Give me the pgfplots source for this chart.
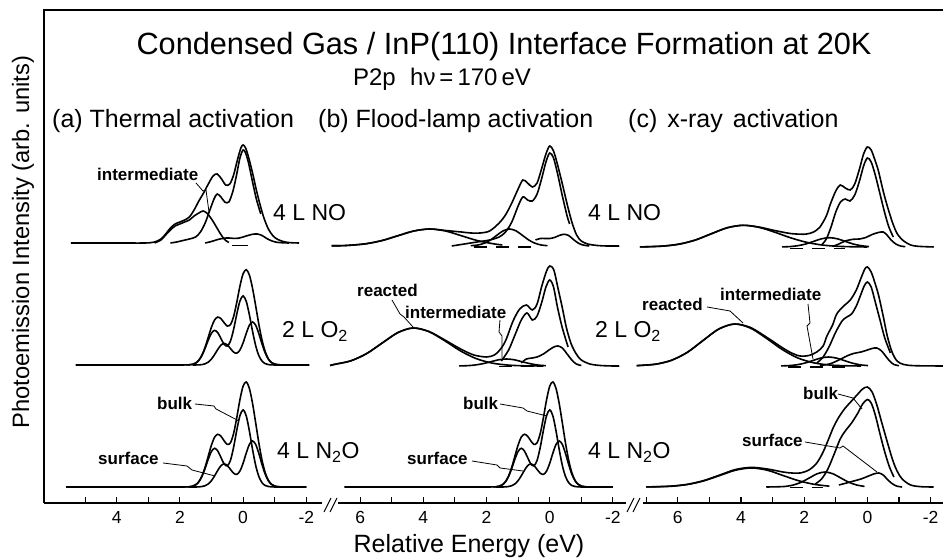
\documentclass[border=0pt]{standalone}
\usepackage{fontspec}
\setmainfont{Liberation Sans}
\usepackage{pgfplots}
\pgfplotsset{compat=1.18}
\pgfplotsset{
  panel/.style={
    x=31.6bp, y=1bp, ymin=0, ymax=493,
    x dir=reverse,
    axis x line*=bottom, axis y line=none, ytick=\empty,
    axis line style={-, line width=1.3bp},
    xtick align=inside,
    major tick length=6bp, minor tick length=6bp,
    every tick/.style={line width=1.1bp, black},
    tick label style={font=\fontsize{17.5bp}{17.5bp}\selectfont, inner sep=0pt},
    xticklabel shift=8bp,
    /pgf/number format/assume math mode=true,
    clip=false,
    every axis plot/.append style={smooth, line width=1.6bp, black, no markers},
  },
  base/.style={y filter/.expression={y+#1}},
  dsh/.style={dash pattern=on 13bp off 9bp},
}
\newcommand{\lab}{\fontsize{17bp}{17bp}\selectfont\bfseries}
\newcommand{\spl}{\fontsize{23bp}{23bp}\selectfont}
\begin{document}
\begin{tikzpicture}[x=1bp,y=1bp]
\useasboundingbox (0,0) rectangle (943,558);

% ---------------- panel (a) ----------------
\begin{axis}[panel, at={(44bp,55bp)}, anchor=south west,
  xmin=-2.5, xmax=6.3, xtick={-2,0,2,4}, minor xtick={-1,1,3,5}]
% 4 L NO
\addplot[base=260] coordinates {(5.45,0)(4.0,0)(3.1,0)(2.8,1)(2.6,4)(2.45,9)(2.3,15)(2.15,19)(2.0,21)(1.85,23)(1.7,26)(1.55,33)(1.4,42)(1.25,50)(1.1,59)(0.95,67)(0.82,69)(0.68,64)(0.55,58)(0.42,59)(0.3,68)(0.18,83)(0.07,95)(0,98)(-0.08,95)(-0.18,85)(-0.3,70)(-0.42,53)(-0.54,38)(-0.66,25)(-0.8,14)(-0.95,7)(-1.1,3.5)(-1.3,1.2)(-1.5,0.3)(-1.77,0)};
\addplot[base=260] coordinates {(2.3,0)(2.1,1)(1.9,2.5)(1.7,4)(1.5,6)(1.35,11)(1.2,20)(1.05,33)(0.92,44)(0.82,49)(0.7,46)(0.58,41)(0.45,41)(0.32,52)(0.2,69)(0.1,85)(0,93)(-0.08,90)(-0.18,79)(-0.3,61)(-0.42,44)(-0.56,29)};
\addplot[base=260] coordinates {(2.8,0)(2.6,3)(2.45,8)(2.3,13)(2.15,17)(2.0,19)(1.85,21)(1.7,23)(1.55,27)(1.4,30)(1.27,32)(1.15,30)(1.02,25)(0.9,19)(0.77,12)(0.65,6)(0.55,2.5)(0.45,0.5)};
\addplot[base=260] coordinates {(1.2,0)(1.0,1.5)(0.8,3.5)(0.6,4.8)(0.45,5)(0.3,4.6)(0.15,4.8)(0,6)(-0.15,7.5)(-0.3,8.7)(-0.45,9)(-0.6,7.5)(-0.75,4.5)(-0.9,2.2)(-1.05,0.8)(-1.25,0.2)(-1.45,0)};
\addplot[base=260, sharp plot] coordinates {(0.34,-2.5)(-0.14,-2.5)};
% 2 L O2
\addplot[base=138] coordinates {(5.3,0)(3.0,0)(2.0,0)(1.8,0.1)(1.7,0.2)(1.6,0.7)(1.5,1.9)(1.4,4.8)(1.3,10.0)(1.2,18.0)(1.1,27.9)(1.0,37.9)(0.9,45.1)(0.8,47.9)(0.7,46.3)(0.6,42.3)(0.5,39.0)(0.4,40.4)(0.3,48.4)(0.2,62.6)(0.1,78.8)(0,91.2)(-0.1,95.3)(-0.2,89.9)(-0.3,76.6)(-0.4,58.9)(-0.5,40.5)(-0.6,24.8)(-0.7,13.4)(-0.8,6.2)(-0.9,2.4)(-1.0,0.9)(-1.1,0.3)(-1.3,0)(-1.7,0)(-2.1,0)};
\addplot[base=138] coordinates {(1.8,0.1)(1.7,0.2)(1.6,0.7)(1.5,1.9)(1.4,4.7)(1.3,9.6)(1.2,16.8)(1.1,25.0)(1.0,31.9)(0.9,34.6)(0.8,32.3)(0.7,26.4)(0.6,20.7)(0.5,18.9)(0.4,23.9)(0.3,35.5)(0.2,50.8)(0.1,63.9)(0,69.1)(-0.1,63.7)(-0.2,50.1)(-0.3,33.6)(-0.4,19.2)(-0.5,9.3)(-0.6,3.9)(-0.7,1.4)(-0.8,0.4)(-1.0,0)(-1.4,0)};
\addplot[base=138] coordinates {(1.6,0)(1.4,0.1)(1.3,0.4)(1.2,1.2)(1.1,2.9)(1.0,6.0)(0.9,10.5)(0.8,15.6)(0.7,19.9)(0.6,21.6)(0.5,20.1)(0.4,16.5)(0.3,12.9)(0.2,11.8)(0.1,14.9)(0,22.1)(-0.1,31.6)(-0.2,39.8)(-0.3,43.0)(-0.4,39.7)(-0.5,31.2)(-0.6,20.9)(-0.7,12.0)(-0.8,5.8)(-0.9,2.4)(-1.0,0.9)(-1.1,0.3)(-1.3,0)};
% 4 L N2O
\addplot[base=16] coordinates {(5.6,0)(3.5,0)(2.0,0)(1.8,0.1)(1.7,0.2)(1.6,0.8)(1.5,2.2)(1.4,5.3)(1.3,11.2)(1.2,20.0)(1.1,31.1)(1.0,42.0)(0.9,49.9)(0.8,52.7)(0.7,50.8)(0.6,46.2)(0.5,42.6)(0.4,44.2)(0.3,53.5)(0.2,69.3)(0.1,87.2)(0,100.8)(-0.1,105.0)(-0.2,98.5)(-0.3,83.5)(-0.4,63.9)(-0.5,43.8)(-0.6,26.7)(-0.7,14.3)(-0.8,6.7)(-0.9,2.7)(-1.0,0.9)(-1.1,0.3)(-1.3,0)(-1.6,0)(-2.0,0)};
\addplot[base=16] coordinates {(1.8,0.1)(1.7,0.2)(1.6,0.8)(1.5,2.2)(1.4,5.2)(1.3,10.7)(1.2,18.7)(1.1,28.0)(1.0,35.6)(0.9,38.7)(0.8,36.0)(0.7,29.5)(0.6,23.1)(0.5,21.1)(0.4,26.6)(0.3,39.7)(0.2,56.7)(0.1,71.3)(0,77.1)(-0.1,71.1)(-0.2,55.9)(-0.3,37.5)(-0.4,21.4)(-0.5,10.4)(-0.6,4.3)(-0.7,1.5)(-0.8,0.5)(-1.0,0)(-1.5,0)(-2.0,0)};
\addplot[base=16] coordinates {(1.7,0)(1.5,0)(1.4,0.1)(1.3,0.5)(1.2,1.3)(1.1,3.1)(1.0,6.4)(0.9,11.2)(0.8,16.7)(0.7,21.3)(0.6,23.1)(0.5,21.5)(0.4,17.6)(0.3,13.8)(0.2,12.6)(0.1,15.9)(0,23.7)(-0.1,33.9)(-0.2,42.6)(-0.3,46.0)(-0.4,42.5)(-0.5,33.4)(-0.6,22.4)(-0.7,12.8)(-0.8,6.2)(-0.9,2.6)(-1.0,0.9)(-1.1,0.3)(-1.3,0)(-1.8,0)};
\end{axis}

% ---------------- panel (b) ----------------
\begin{axis}[panel, at={(338bp,55bp)}, anchor=south west,
  xmin=-2.4, xmax=6.7, xtick={-2,0,2,4,6}, minor xtick={-1,1,3,5}]
% 4 L NO
\addplot[base=257] coordinates {(6.9,0.2)(6.6,0.3)(6.3,0.8)(5.8,2.3)(5.3,5.5)(4.8,10.3)(4.3,15)(3.8,17)(3.3,15.5)(2.8,14)(2.5,13)(2.2,13)(1.9,15)(1.6,23)(1.4,31)(1.2,43)(1.0,57)(0.85,66)(0.7,63)(0.55,59)(0.4,63)(0.25,78)(0.12,92)(0,100)(-0.12,95)(-0.25,81)(-0.4,62)(-0.55,42)(-0.7,24)(-0.85,11)(-1.0,5)(-1.2,2)(-1.5,0.5)(-1.8,0)(-2.2,0)};
\addplot[base=257] coordinates {(3.1,0)(2.7,2)(2.3,4)(1.9,6)(1.6,9)(1.4,14)(1.2,24)(1.0,40)(0.85,49)(0.7,46)(0.55,45)(0.4,52)(0.25,68)(0.12,84)(0,93)(-0.12,88)(-0.25,72)(-0.4,50)(-0.55,30)(-0.63,22)};
\addplot[base=257] coordinates {(6.9,0.2)(6.6,0.3)(6.3,0.75)(5.8,2.3)(5.3,5.5)(4.8,10.3)(4.3,15)(3.8,17)(3.3,15)(2.8,10.3)(2.3,5.5)(1.8,2.3)(1.5,1)};
\addplot[base=257] coordinates {(2.5,0.3)(2.27,1.0)(2.07,2.8)(1.87,6.1)(1.67,10.8)(1.47,15.2)(1.27,17)(1.07,15.2)(0.87,10.8)(0.67,6.1)(0.47,2.8)(0.27,1.0)(0.07,0.3)};
\addplot[base=257] coordinates {(0.45,6)(0.3,7.5)(0.15,7.5)(0,7.5)(-0.15,8.5)(-0.3,10.5)(-0.45,11.7)(-0.6,10.5)(-0.75,6.5)(-0.9,3)(-1.05,1)(-1.25,0)};
\addplot[base=257, dsh, sharp plot] coordinates {(2.4,-1)(1.4,-1)(0.4,-1)};
% 2 L O2
\addplot[base=137] coordinates {(6.95,0.5)(6.8,1.7)(6.3,5.1)(5.8,12.3)(5.3,23)(4.8,33.5)(4.32,38)(3.82,34.5)(3.32,26)(2.82,17)(2.4,11)(2.0,9)(1.75,11)(1.58,16)(1.4,25)(1.16,45)(0.95,57)(0.74,61)(0.55,56)(0.4,62)(0.25,80)(0.1,95)(0,100)(-0.13,96)(-0.26,78)(-0.4,58)(-0.53,38)(-0.68,22)(-0.84,12)(-1.0,6)(-1.27,2)(-1.6,0.5)(-2.0,0)(-2.2,0)};
\addplot[base=137] coordinates {(1.53,5)(1.3,16)(1.1,31)(0.9,46)(0.72,53)(0.55,46)(0.4,50)(0.25,64)(0.12,79)(0,86)(-0.12,79)(-0.25,58)(-0.4,38)(-0.58,19)};
\addplot[base=137] coordinates {(0.9,3)(0.74,7)(0.55,8)(0.4,9)(0.2,12)(0,16.5)(-0.13,19)(-0.26,20)(-0.4,18)(-0.55,12)(-0.7,6)(-0.84,2)(-1.0,0.5)};
\addplot[base=137] coordinates {(6.95,0.5)(6.8,1.7)(6.3,5.1)(5.8,12.3)(5.3,23)(4.8,33.5)(4.32,38)(3.82,34.3)(3.32,25.2)(2.82,15)(2.32,7.3)(1.82,2.9)(1.32,0.9)(0.82,0.2)(0.2,0)};
\addplot[base=137] coordinates {(2.87,0.1)(2.62,0.3)(2.37,0.95)(2.12,2.3)(1.87,4.2)(1.62,6.2)(1.37,7)(1.12,6.2)(0.87,4.2)(0.62,2.3)(0.37,0.95)(0.12,0.3)};
\addplot[base=137, dsh, sharp plot] coordinates {(1.6,-0.5)(0.5,-0.5)};
% 4 L N2O
\addplot[base=16] coordinates {(6.5,0)(4.5,0)(3.0,0)(2.0,0)(1.8,0.1)(1.7,0.2)(1.6,0.8)(1.5,2.2)(1.4,5.3)(1.3,11.2)(1.2,20.0)(1.1,31.1)(1.0,42.0)(0.9,49.9)(0.8,52.7)(0.7,50.8)(0.6,46.2)(0.5,42.6)(0.4,44.2)(0.3,53.5)(0.2,69.3)(0.1,87.2)(0,100.8)(-0.1,105.0)(-0.2,98.5)(-0.3,83.5)(-0.4,63.9)(-0.5,43.8)(-0.6,26.7)(-0.7,14.3)(-0.8,6.7)(-0.9,2.7)(-1.0,0.9)(-1.1,0.3)(-1.3,0)(-1.6,0)(-2.0,0)};
\addplot[base=16] coordinates {(1.8,0.1)(1.7,0.2)(1.6,0.8)(1.5,2.2)(1.4,5.2)(1.3,10.7)(1.2,18.7)(1.1,28.0)(1.0,35.6)(0.9,38.7)(0.8,36.0)(0.7,29.5)(0.6,23.1)(0.5,21.1)(0.4,26.6)(0.3,39.7)(0.2,56.7)(0.1,71.3)(0,77.1)(-0.1,71.1)(-0.2,55.9)(-0.3,37.5)(-0.4,21.4)(-0.5,10.4)(-0.6,4.3)(-0.7,1.5)(-0.8,0.5)(-1.0,0)(-1.5,0)(-2.0,0)};
\addplot[base=16] coordinates {(1.7,0)(1.5,0)(1.4,0.1)(1.3,0.5)(1.2,1.3)(1.1,3.1)(1.0,6.4)(0.9,11.2)(0.8,16.7)(0.7,21.3)(0.6,23.1)(0.5,21.5)(0.4,17.6)(0.3,13.8)(0.2,12.6)(0.1,15.9)(0,23.7)(-0.1,33.9)(-0.2,42.6)(-0.3,46.0)(-0.4,42.5)(-0.5,33.4)(-0.6,22.4)(-0.7,12.8)(-0.8,6.2)(-0.9,2.6)(-1.0,0.9)(-1.1,0.3)(-1.3,0)(-1.8,0)};
\end{axis}

% ---------------- panel (c) ----------------
\begin{axis}[panel, at={(643bp,55bp)}, anchor=south west,
  xmin=-2.4, xmax=7.1, xtick={-2,0,2,4,6}, minor xtick={-1,1,3,5,7}]
% 4 L NO
\addplot[base=256] coordinates {(7.2,0.1)(6.94,0.3)(6.44,1)(5.94,3)(5.44,7)(4.94,13.2)(4.44,19.2)(3.94,21.7)(3.44,20)(2.94,16.5)(2.44,13.5)(2.1,12.8)(1.92,13)(1.7,15)(1.5,20)(1.3,31)(1.17,43)(1.0,56)(0.86,62)(0.7,59)(0.54,57)(0.4,63)(0.25,78)(0.12,93)(0,100)(-0.12,97)(-0.25,86)(-0.35,76)(-0.5,56)(-0.63,41)(-0.8,24)(-0.95,13)(-1.15,6)(-1.37,2)(-1.6,0.7)(-2.1,0)};
\addplot[base=256] coordinates {(1.45,2)(1.3,8)(1.15,20)(1.0,35)(0.85,45)(0.7,48)(0.55,46)(0.4,52)(0.25,66)(0.12,81)(0,89)(-0.12,85)(-0.25,72)(-0.4,53)(-0.55,34)(-0.68,20)(-0.82,10)};
\addplot[base=256] coordinates {(7.2,0.1)(6.94,0.24)(6.44,0.95)(5.94,2.9)(5.44,7.0)(4.94,13.2)(4.44,19.2)(3.94,21.7)(3.44,19.7)(2.94,14.9)(2.44,9.3)(1.94,4.8)(1.44,2.0)(0.94,0.7)(0.44,0.2)(0,0)};
\addplot[base=256] coordinates {(2.7,0.1)(2.45,0.4)(2.2,1.3)(1.95,3.0)(1.7,5.6)(1.45,8.2)(1.2,9.3)(0.95,8.2)(0.7,5.6)(0.45,3.0)(0.2,1.3)(-0.05,0.4)};
\addplot[base=256] coordinates {(1.1,0.5)(0.9,3)(0.7,6)(0.45,7.7)(0.25,8)(0.05,9.5)(-0.15,12.5)(-0.35,14.5)(-0.5,15)(-0.62,12)(-0.75,7)(-0.9,3)(-1.05,1)(-1.2,0.3)};
\addplot[base=256, dsh, sharp plot] coordinates {(2.45,-1.5)(0.7,-1.5)};
% 2 L O2
\addplot[base=137] coordinates {(7.3,0.3)(7.2,0.5)(6.7,1.8)(6.2,5.7)(5.7,13.6)(5.2,25.5)(4.7,37)(4.2,42)(3.7,38.5)(3.2,29)(2.7,18.5)(2.4,13)(2.13,10)(1.85,10.5)(1.6,14)(1.4,20)(1.28,30)(1.1,41)(0.97,52)(0.75,60)(0.54,66)(0.35,76)(0.2,88)(0.08,97)(0,99)(-0.12,94)(-0.25,82)(-0.36,70)(-0.5,50)(-0.63,30)(-0.78,14)(-0.94,5)(-1.15,1.5)(-1.5,0.3)(-2.4,0)};
\addplot[base=137] coordinates {(1.6,3)(1.4,9)(1.2,20)(1.0,34)(0.8,45)(0.65,49)(0.5,52)(0.35,60)(0.2,72)(0.1,80)(0,84)(-0.12,79)(-0.25,64)(-0.4,46)(-0.55,28)(-0.73,13)};
\addplot[base=137] coordinates {(7.3,0.4)(6.7,1.8)(6.2,5.7)(5.7,13.6)(5.2,25.5)(4.7,37)(4.2,42)(3.7,37.9)(3.2,27.8)(2.7,16.6)(2.2,8.0)(1.7,3.2)(1.2,1.0)(0.7,0.25)(0.2,0)};
\addplot[base=137] coordinates {(2.73,0.1)(2.48,0.4)(2.23,1.2)(1.98,2.9)(1.73,5.4)(1.48,7.9)(1.23,9)(0.98,7.9)(0.73,5.4)(0.48,2.9)(0.23,1.2)(-0.02,0.4)};
\addplot[base=137] coordinates {(1.5,0.5)(1.2,2)(0.9,6)(0.65,10)(0.44,12.5)(0.2,14)(0,16)(-0.15,17.5)(-0.3,18)(-0.45,15)(-0.6,9)(-0.72,4.5)(-0.84,1.5)(-1.0,0.3)};
\addplot[base=137, dsh, sharp plot] coordinates {(2.5,-1)(0.6,-1)};
% 4 L N2O
\addplot[base=16] coordinates {(7.0,0.1)(6.67,0.3)(6.17,1)(5.67,2.8)(5.17,6.5)(4.67,12)(4.17,17.5)(3.67,19.6)(3.17,18)(2.67,15)(2.4,14)(2.13,14)(1.85,17)(1.6,24)(1.4,35)(1.2,50)(1.07,60)(0.9,70)(0.7,79)(0.5,86)(0.3,93)(0.15,98)(0,100)(-0.15,95)(-0.3,82)(-0.45,65)(-0.63,45)(-0.8,27)(-0.94,16)(-1.1,8)(-1.37,2)(-1.7,0.3)(-2.1,0)};
\addplot[base=16] coordinates {(1.65,3)(1.45,8)(1.25,18)(1.05,33)(0.86,48)(0.7,56)(0.5,64)(0.3,74)(0.15,83)(0,87.5)(-0.12,84)(-0.25,72)(-0.4,53)(-0.55,35)(-0.7,20)(-0.84,10)};
\addplot[base=16] coordinates {(7.0,0.07)(6.67,0.2)(6.17,0.8)(5.67,2.6)(5.17,6.2)(4.67,11.5)(4.17,16.8)(3.67,19)(3.17,16.8)(2.67,11.5)(2.17,6.2)(1.67,2.6)(1.2,0.8)};
\addplot[base=16] coordinates {(3.2,0)(2.84,0.2)(2.59,0.6)(2.34,2.0)(2.09,4.8)(1.84,9.0)(1.59,13.2)(1.34,15)(1.09,13.2)(0.84,9.0)(0.59,4.8)(0.34,2.0)(0.09,0.6)};
\addplot[base=16] coordinates {(0.9,2)(0.6,4.5)(0.43,6)(0.2,8)(0,10.5)(-0.2,13)(-0.36,14)(-0.5,12)(-0.65,7)(-0.8,3)(-0.94,0.8)(-1.1,0)};
\addplot[base=16, dsh, sharp plot] coordinates {(2.45,-0.5)(1.4,-0.5)};
\end{axis}

% ---------------- frame, breaks ----------------
\draw[line width=1.3bp] (44,55) -- (44,548) -- (943,548);
\draw[line width=1bp] (324,46) -- (331,60) (330,46) -- (337,60);
\draw[line width=1bp] (627,46) -- (634,60) (633,46) -- (640,60);

% ---------------- texts ----------------
\node[anchor=base, inner sep=0pt, font=\fontsize{30.7bp}{32bp}\selectfont] at (504,503) {Condensed Gas / InP(110) Interface Formation at 20K};
\node[anchor=base, inner sep=0pt, font=\fontsize{24bp}{24bp}\selectfont] at (442,472) {P2p\hspace{0.6em}hν\,=\,170\,eV};
\node[anchor=base west, inner sep=0pt, font=\fontsize{25bp}{25bp}\selectfont] at (52,430) {(a) Thermal activation};
\node[anchor=base west, inner sep=0pt, font=\fontsize{25bp}{25bp}\selectfont] at (318,430) {(b) Flood-lamp activation};
\node[anchor=base west, inner sep=0pt, font=\fontsize{25bp}{25bp}\selectfont] at (628,430) {(c)\hspace{0.4em}x-ray\hspace{0.4em}activation};
\node[anchor=base, inner sep=0pt, font=\fontsize{25bp}{25bp}\selectfont] at (469,5) {Relative Energy (eV)};
\node[rotate=90, inner sep=0pt, font=\fontsize{23.7bp}{24bp}\selectfont] at (23,316) {Photoemission Intensity (arb. units)};

% spectrum labels
\node[anchor=base west, inner sep=0pt] at (273,337) {\spl 4 L NO};
\node[anchor=base west, inner sep=0pt] at (282,220) {\spl 2 L O\textsubscript{2}};
\node[anchor=base west, inner sep=0pt] at (277,99) {\spl 4 L N\textsubscript{2}O};
\node[anchor=base west, inner sep=0pt] at (588,337) {\spl 4 L NO};
\node[anchor=base west, inner sep=0pt] at (595,220) {\spl 2 L O\textsubscript{2}};
\node[anchor=base west, inner sep=0pt] at (588,99) {\spl 4 L N\textsubscript{2}O};

% annotation labels
\node[anchor=base west, inner sep=0pt] at (97,377) {\lab intermediate};
\node[anchor=base west, inner sep=0pt] at (157,148) {\lab bulk};
\node[anchor=base west, inner sep=0pt] at (98,93) {\lab surface};
\node[anchor=base west, inner sep=0pt] at (357,261) {\lab reacted};
\node[anchor=base west, inner sep=0pt] at (405,239) {\lab intermediate};
\node[anchor=base west, inner sep=0pt] at (463,148) {\lab bulk};
\node[anchor=base west, inner sep=0pt] at (407,93) {\lab surface};
\node[anchor=base west, inner sep=0pt] at (642,247) {\lab reacted};
\node[anchor=base west, inner sep=0pt] at (720,257) {\lab intermediate};
\node[anchor=base west, inner sep=0pt] at (803,158) {\lab bulk};
\node[anchor=base west, inner sep=0pt] at (742,111) {\lab surface};

% pointers
\begin{scope}[line width=0.8bp]
\draw (196,375) -- (203,367) -- (206,368) -- (209,346);
\draw (195,154) -- (214,152) -- (216,149) -- (239,137);
\draw (163,95) -- (187,92) -- (192,88) -- (215,82);
\draw (500,154) -- (523,150) -- (527,147) -- (547,142);
\draw (472,97) -- (497,93) -- (500,90) -- (523,87);
\draw (392,258) -- (400,244) -- (404,241) -- (413,231);
\draw (500,238) -- (499,226) -- (502,222) -- (502,200);
\draw (707,251) -- (730,247) -- (743,235);
\draw (808,254) -- (810,235) -- (807,232) -- (813,199);
\draw (838,164) -- (853,160) -- (862,149);
\draw (805,116) -- (840,110) -- (843,112) -- (877,86);
\end{scope}
\end{tikzpicture}
\end{document}
